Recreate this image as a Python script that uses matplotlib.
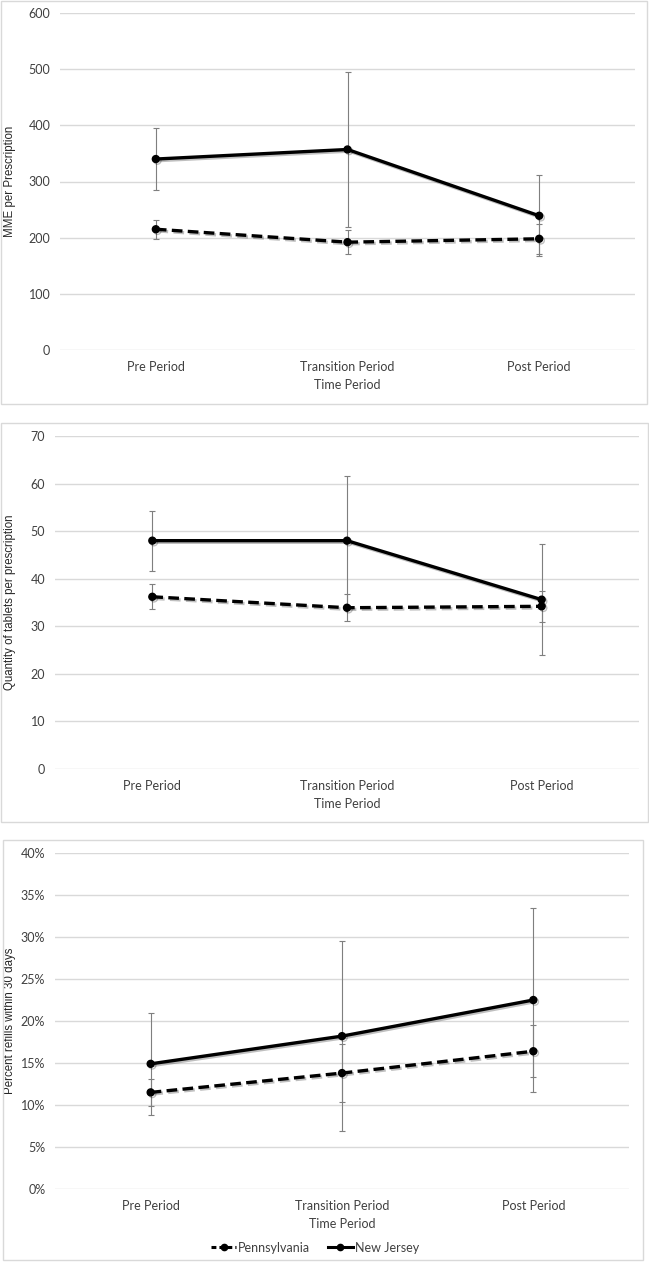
import matplotlib
matplotlib.use("Agg")
import matplotlib.pyplot as plt
import matplotlib.patheffects as pe
from matplotlib.patches import Rectangle
from matplotlib.lines import Line2D
from matplotlib.ticker import FuncFormatter

periods = ['Pre Period', 'Transition Period', 'Post Period']

mme_pa = [215, 192, 198]
mme_pa_err = [17, 21, 27]
mme_nj = [340, 357, 239]
mme_nj_err = [55, 138, 72]

qty_pa = [36.2, 33.9, 34.2]
qty_pa_err = [2.6, 2.8, 3.2]
qty_nj = [48.0, 48.0, 35.6]
qty_nj_err = [6.3, 13.6, 11.7]

ref_pa = [11.5, 13.8, 16.4]
ref_pa_err = [1.6, 3.5, 3.1]
ref_nj = [14.9, 18.2, 22.5]
ref_nj_err = [6.1, 11.3, 11.0]

W, H = 649, 1265
fig = plt.figure(figsize=(W/100, H/100), dpi=100)
fig.patch.set_facecolor('white')

TICKFONT = 'Lato'
LABFONT = 'Liberation Sans'

def frect(l, t, r, b):
    return [l/W, 1-b/H, (r-l)/W, (b-t)/H]

def box(l, t, r, b):
    fig.patches.append(Rectangle((l/W, 1-b/H), (r-l)/W, (b-t)/H, transform=fig.transFigure,
                                 fill=False, edgecolor='#d9d9d9', linewidth=1.0))

shadow = [pe.SimpleLineShadow(offset=(1.2, -1.2), shadow_color='black', alpha=0.25), pe.Normal()]

def panel(axrect, pa, pa_err, nj, nj_err, ylim, step, ylabel, ylabx, pct=False):
    ax = fig.add_axes(axrect)
    x = list(range(len(periods)))
    ax.errorbar(x, pa, yerr=pa_err, fmt='none', ecolor='#7f7f7f', elinewidth=0.8,
                capsize=2.2, capthick=0.8, zorder=2)
    ax.errorbar(x, nj, yerr=nj_err, fmt='none', ecolor='#7f7f7f', elinewidth=0.8,
                capsize=2.2, capthick=0.8, zorder=2)
    ax.plot(x, pa, color='black', linestyle=(0, (3.2, 1.6)), linewidth=2.4, marker='o',
            markersize=5, zorder=3, path_effects=shadow, label='Pennsylvania')
    ax.plot(x, nj, color='black', linestyle='-', linewidth=2.4, marker='o',
            markersize=5, zorder=3, path_effects=shadow, label='New Jersey')
    ax.set_xlim(-0.5, len(periods) - 0.5)
    ax.set_ylim(0, ylim)
    ticks = [i * step for i in range(int(round(ylim / step)) + 1)]
    ax.set_yticks(ticks)
    if pct:
        ax.yaxis.set_major_formatter(FuncFormatter(lambda v, p: '{:.0f}%'.format(v)))
    ax.set_xticks(x)
    ax.set_xticklabels(periods)
    for s in ax.spines.values():
        s.set_visible(False)
    ax.grid(axis='y', color='#d9d9d9', linewidth=1.0)
    ax.set_axisbelow(True)
    ax.tick_params(axis='both', length=0, labelsize=9, colors='#404040')
    ax.tick_params(axis='y', pad=7)
    ax.tick_params(axis='x', pad=8)
    for lab in ax.get_xticklabels() + ax.get_yticklabels():
        lab.set_fontfamily(TICKFONT)
    ax.set_xlabel('Time Period', fontsize=9, family=TICKFONT, color='#404040', labelpad=4)
    ax.set_ylabel(ylabel, fontsize=8.3, family=LABFONT, color='#262626')
    ax.yaxis.set_label_coords(ylabx, 0.5)
    return ax

box(1, 1, 647, 404)
box(1, 423, 648, 822)
box(3, 840, 643, 1260)

panel(frect(60, 13, 635, 350), mme_pa, mme_pa_err, mme_nj, mme_nj_err, 600, 100,
      'MME per Prescription', (16 - 60) / 575)
panel(frect(55, 436, 639, 769), qty_pa, qty_pa_err, qty_nj, qty_nj_err, 70, 10,
      'Quantity of tablets per prescription', (16 - 55) / 584)
ax3 = panel(frect(55, 853, 629, 1189), ref_pa, ref_pa_err, ref_nj, ref_nj_err, 40, 5,
            'Percent refills within 30 days', (16 - 55) / 574, pct=True)

handles = [Line2D([], [], color='black', linestyle=(0, (1.6, 1.0)), linewidth=2.2, marker='o', markersize=4.5),
           Line2D([], [], color='black', linestyle='-', linewidth=2.2, marker='o', markersize=4.5)]
fig.legend(handles, ['Pennsylvania', 'New Jersey'], loc='center', bbox_to_anchor=(315 / W, 1 - 1247.5 / H),
           ncol=2, frameon=False, handlelength=2.0, handletextpad=0.15, columnspacing=1.4,
           prop={'family': TICKFONT, 'size': 9}, labelcolor='#404040')

fig.savefig('out.png', dpi=100, facecolor='white')
